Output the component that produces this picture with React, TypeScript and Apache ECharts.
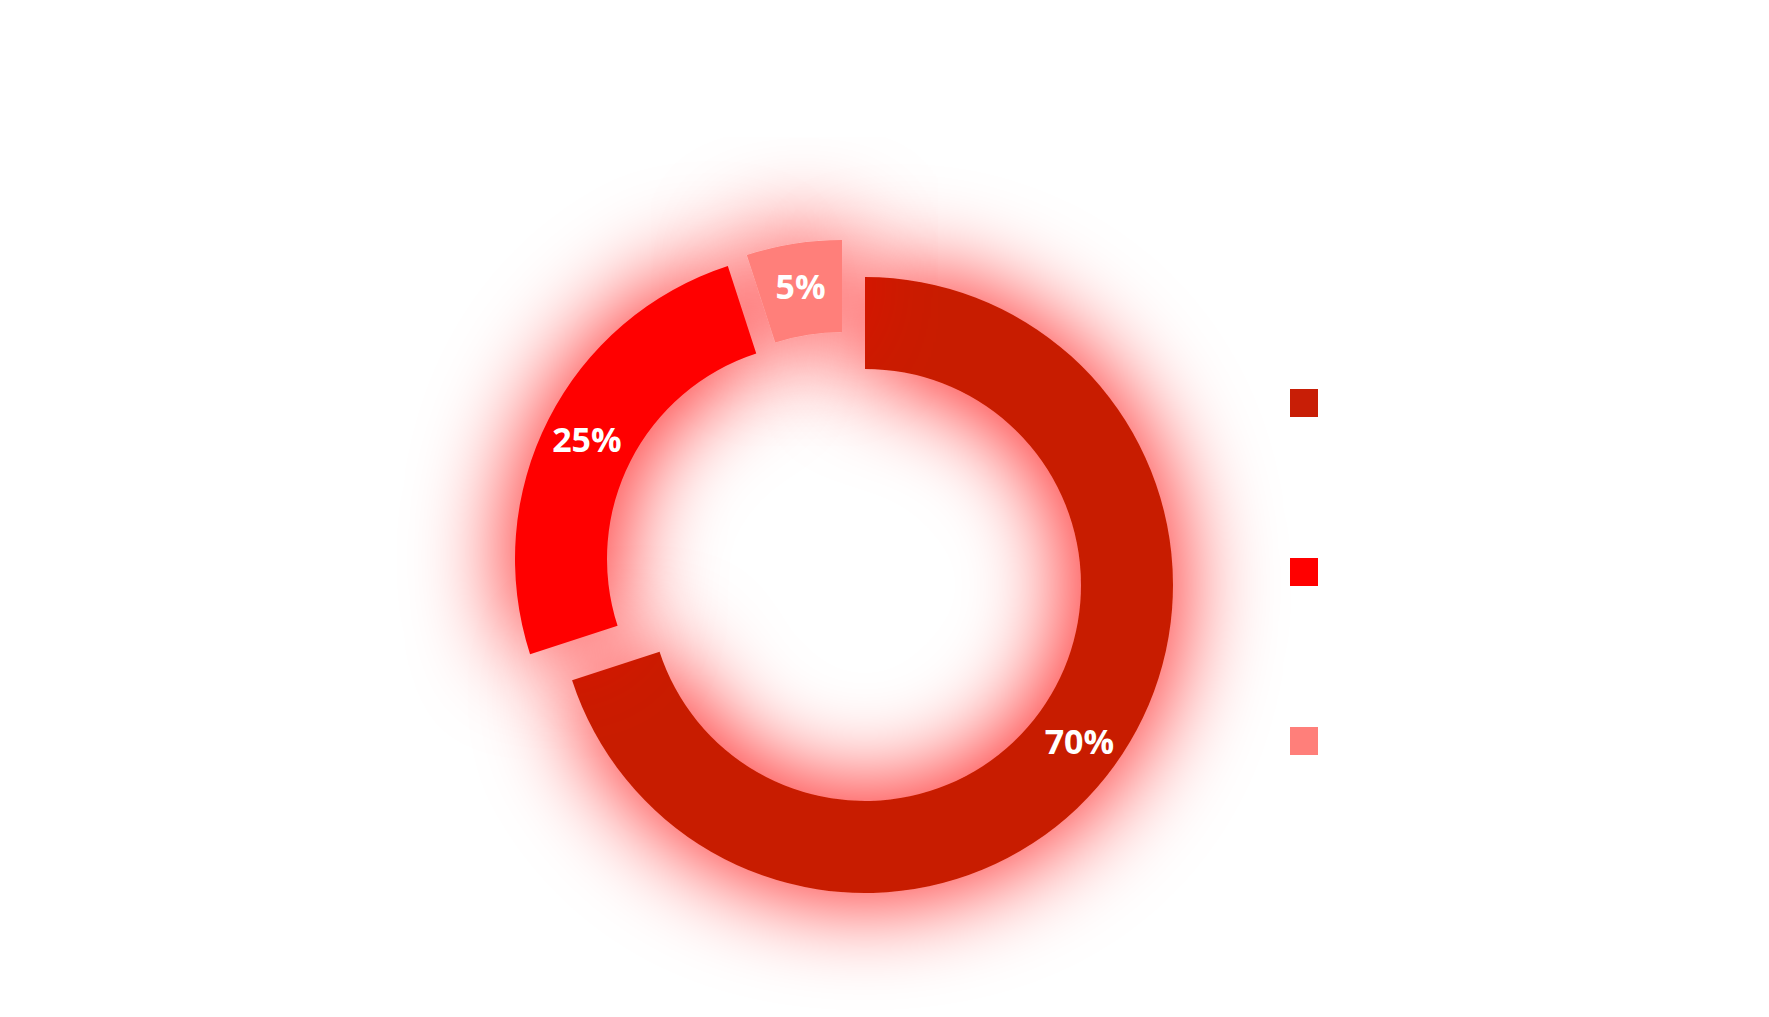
import React, { useEffect, useRef } from 'react';
import * as echarts from 'echarts';

const names = ['Category A', 'Category B', 'Category C'];
const values = [70, 25, 5];
const colors = ['#C81E06', '#FF0000', '#FF7F7A'];
const centers = [['865', '585'], ['823', '559'], ['842', '548']];

const App: React.FC = () => {
  const chartRef = useRef<HTMLDivElement>(null);

  useEffect(() => {
    const chart = echarts.init(chartRef.current as HTMLDivElement, undefined, { renderer: 'svg' });
    const data = names.map((n, i) => ({ name: n, value: values[i] }));
    const series = names.map((_, k) => ({
      type: 'pie',
      name: names[k],
      center: centers[k].map(Number),
      radius: [216, 308],
      startAngle: 90,
      clockwise: true,
      silent: true,
      legendHoverLink: false,
      data: data.map((d, i) => ({
        ...d,
        itemStyle: i === k
          ? { color: colors[i], shadowBlur: 100, shadowColor: 'rgba(255,0,0,1)' }
          : { color: 'transparent' },
        label: i === k
          ? { show: true, position: 'inside', formatter: '{c}%', color: '#fff', fontSize: 34, fontWeight: 'bold', fontFamily: 'Open Sans' }
          : { show: false },
      })),
      labelLine: { show: false },
    }));
    chart.setOption({
      animation: false,
      color: colors,
      legend: {
        orient: 'vertical',
        left: 1285,
        top: 384,
        itemWidth: 28,
        itemHeight: 28,
        itemGap: 141,
        icon: 'rect',
        data: names,
        textStyle: { color: '#fff', fontSize: 20 },
      },
      series,
    });
    return () => chart.dispose();
  }, []);

  return <div ref={chartRef} style={{ position: 'absolute', left: 0, top: 0, width: 1769, height: 1017 }} />;
};

export default App;
